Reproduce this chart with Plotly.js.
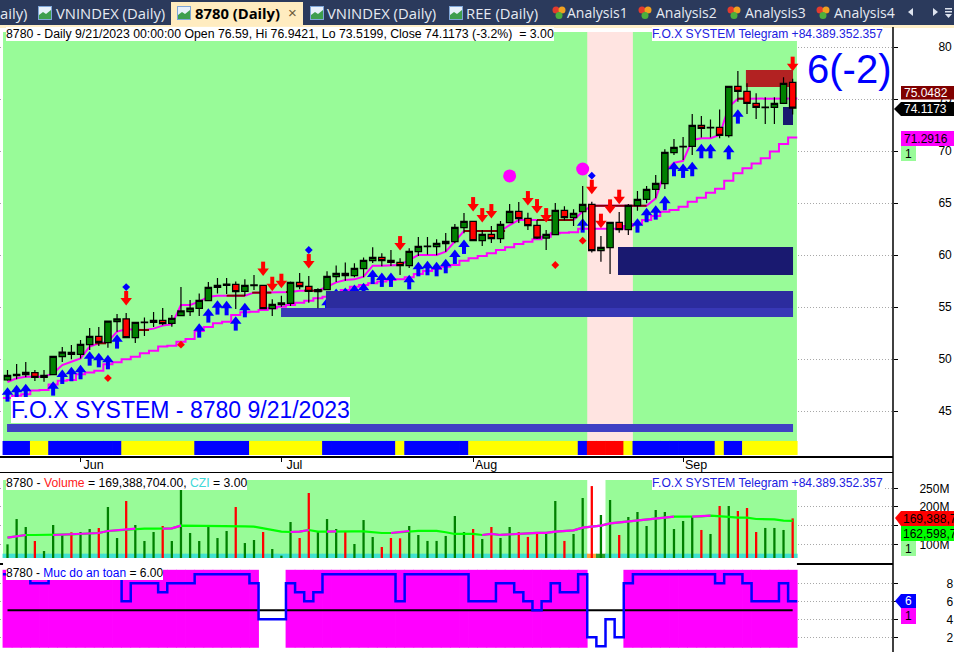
<!DOCTYPE html>
<html><head><meta charset="utf-8">
<script src="https://cdn.plot.ly/plotly-3.0.1.min.js"></script>
<style>html,body{margin:0;padding:0;background:#fff;overflow:hidden}</style>
</head><body><div id="chart" style="width:954px;height:652px"></div>
<script>
// ---- price data (bar index 0..86) ----
const openP=[47.98,48.40,48.49,48.69,48.24,48.49,50.22,50.64,50.45,51.38,52.18,51.57,53.59,53.85,52.05,53.49,53.53,53.72,53.43,54.17,54.55,54.87,55.61,56.89,57.08,57.18,56.51,57.05,57.08,54.84,55.22,55.35,57.37,56.99,56.47,56.68,57.92,58.24,58.01,58.69,59.45,59.77,59.49,59.29,58.97,60.32,60.80,60.80,61.09,61.28,62.63,63.24,61.38,61.98,61.57,63.11,64.20,63.53,62.85,61.63,61.95,64.29,63.59,64.17,64.87,60.42,60.71,63.14,62.44,64.74,65.35,66.31,66.86,69.84,70.39,70.45,72.47,72.21,72.28,71.47,76.22,75.74,74.58,74.17,74.20,74.58,76.59];
const highP=[48.94,49.52,49.71,48.94,48.94,50.29,51.15,51.35,51.83,52.98,53.08,53.69,54.33,54.42,53.53,54.00,54.52,54.90,54.23,56.92,55.67,56.31,57.40,57.79,57.79,57.44,57.66,58.08,57.12,55.74,56.09,57.44,58.27,57.98,56.80,58.43,59.00,59.29,59.20,59.77,60.74,60.16,60.48,59.68,60.64,61.73,61.73,61.51,62.11,62.98,64.04,63.30,62.40,62.79,63.27,64.90,65.10,64.07,63.37,62.40,65.00,64.68,64.39,66.64,65.13,61.83,63.14,64.14,64.90,66.15,66.64,67.69,70.16,71.15,71.35,73.56,73.37,73.04,74.00,76.22,77.69,76.51,75.55,75.16,75.16,77.08,76.94];
const lowP=[47.92,48.05,48.24,47.89,47.82,48.43,49.71,49.97,50.06,50.87,51.25,51.09,52.63,52.05,51.54,52.21,53.08,53.24,53.11,54.13,54.13,54.13,55.61,56.31,56.25,54.81,56.06,56.63,54.81,54.13,55.03,55.10,56.70,55.42,54.87,56.64,57.40,57.53,57.85,57.85,59.23,58.91,58.94,58.08,58.75,59.90,60.06,59.97,60.32,61.12,62.08,61.38,60.86,61.15,61.15,63.11,63.08,62.40,61.54,60.48,61.95,63.33,62.79,62.40,60.23,59.36,58.17,62.15,61.92,64.26,64.97,65.45,66.35,69.62,69.13,69.62,71.31,71.31,71.22,71.31,74.74,73.56,73.08,72.60,72.60,74.52,73.52];
const closeP=[48.43,48.53,48.72,48.24,48.43,50.26,50.67,50.45,51.41,52.18,51.60,53.65,53.85,52.05,53.53,53.56,53.72,53.40,53.91,54.62,54.90,55.64,56.89,57.08,57.21,56.47,57.08,57.12,54.84,55.26,55.39,57.37,56.95,56.51,56.67,57.95,58.24,58.01,58.72,59.49,59.77,59.45,59.29,58.97,60.35,60.83,60.86,61.12,61.31,62.66,63.24,61.38,61.98,61.57,62.95,64.20,63.49,62.82,61.63,61.98,64.29,63.59,64.01,64.87,60.42,60.74,63.14,62.44,64.78,65.35,66.31,66.89,69.87,70.35,70.45,72.47,72.18,72.28,71.50,76.22,75.74,74.58,74.20,74.23,74.58,76.51,74.12];
const upperLine=[47.79,48.14,48.30,48.30,48.30,48.62,49.42,49.74,50.06,51.19,51.51,51.67,52.63,52.85,52.79,52.79,52.92,53.21,53.33,55.19,55.19,55.51,55.99,56.09,56.09,56.09,56.09,56.38,56.38,56.38,56.44,56.44,56.57,56.57,56.57,56.95,57.37,57.60,57.66,57.92,58.97,58.97,59.04,59.04,59.52,60.00,60.00,60.00,60.32,61.28,62.31,62.31,62.31,62.31,62.31,62.88,63.37,63.37,63.37,63.37,63.37,63.37,63.37,64.17,64.74,64.74,64.74,64.74,64.74,64.74,64.74,65.45,68.01,68.88,69.04,71.06,71.22,71.22,71.54,74.26,75.03,75.03,75.03,75.03,75.03,75.03,75.05];
const lowerLine=[46.25,46.47,46.60,46.96,47.02,47.56,47.92,47.98,48.53,48.69,48.88,49.49,49.68,49.97,50.22,50.55,50.80,51.19,51.28,51.67,51.92,52.69,53.08,53.43,53.59,54.23,54.49,54.55,54.71,54.87,55.03,55.19,55.42,55.61,55.83,55.99,56.31,56.63,56.95,57.12,57.28,57.44,57.60,57.66,57.85,58.17,58.46,58.65,58.88,59.04,59.45,59.68,59.90,60.16,60.48,60.74,61.06,61.28,61.51,61.76,62.08,62.15,62.18,62.53,62.53,62.53,62.53,62.53,62.79,62.98,63.37,63.75,64.17,64.33,64.65,65.13,65.51,65.99,66.38,67.15,67.85,68.33,68.81,69.30,69.94,70.67,71.29];
const flatStart=[9.6,14,24,26.8,30.5,32.5,50,58,64,80];
const flatEnd=[10.8,15.5,26,28.9,31.1,34.5,54.5,62,70,81];
const flatLevel=[51.51,52.79,56.09,56.38,56.44,56.57,62.31,63.37,64.74,75.03];
// ---- signals ----
const buyIdx=[0,1,2,5,6,7,8,9,10,11,12,21,22,23,24,25,26,35,36,37,38,39,40,41,42,44,45,46,47,48,49,50,63,69,70,71,72,73,74,75,76,77,79,80];
const buyVal=[46.81,47.04,47.13,47.39,48.51,48.77,48.96,50.27,50.11,49.92,51.91,52.96,54.41,55.18,55.11,53.64,54.92,55.40,56.30,56.40,56.68,56.84,58.12,57.84,57.84,57.61,58.86,58.96,58.86,59.15,60.05,61.01,63.06,63.06,64.06,64.31,65.21,68.48,68.32,68.48,70.21,70.21,70.11,73.54];
const sellIdx=[13,28,29,30,33,43,51,52,53,57,58,59,64,65,66,67,86];
const sellVal=[55.63,58.45,57.00,57.29,59.18,60.91,64.66,63.60,63.99,65.24,64.47,63.60,66.33,63.06,64.44,65.37,78.16];
const blueDotIdx=[13,33,64], blueDotVal=[56.92,60.48,67.63];
const redDotIdx=[11,19,60,63], redDotVal=[48.17,51.38,59.04,61.38];
const pinkDotIdx=[55,63], pinkDotVal=[67.60,68.27];
// ---- zones ----
const zoneX0=[66.87,34.88,29.96,-0.05,80.88,84.94];
const zoneX1=[86.04,86.04,86.04,86.04,86.04,86.04];
const zoneY0=[58.08,54.81,54.04,42.98,76.15,72.50];
const zoneY1=[60.77,56.54,54.90,43.75,77.79,74.23];
const zoneColor=['#191970','#2C2C9E','#3838B6','#4040C4','#B22222','#191970'];
const trendRibbon=['b','b','b','y','y','b','b','b','b','b','b','b','b','y','y','y','y','y','y','y','y','b','b','b','b','b','b','y','y','y','y','y','y','y','y','b','b','b','b','b','b','b','b','y','b','b','b','b','b','b','b','y','y','y','y','y','y','y','y','y','y','y','y','b','r','r','r','r','y','b','b','b','b','b','b','b','b','b','y','b','b','y','y','y','y','y','y'];
// ---- volume (millions) ----
const volume=[99.9,167.7,146.3,108.8,82,151.7,127.6,132,132.9,141,143.6,199.9,116.8,216,151.7,108.8,132.9,149,108.8,245.4,130.2,108.8,151.7,116.8,135.6,199.9,103.4,111.5,132.9,87.4,69.5,159.7,116.8,237.4,132.9,167.7,141,135.6,100.8,165,119.5,92.7,116.8,116,149,125,109,109,122.4,175.9,133,141,114.3,146.4,117,146.4,133,119.7,127.7,132.2,216,109,127.7,224,256,178.5,218.7,125,173.2,186.6,149,191.9,186.6,141,162.5,173.2,138.4,127.7,202.6,202.6,189.2,197.3,133,143.8,143.8,138.4,169.4];
const volumeAvg=[117.7,120.4,124.9,124.9,124.9,124.9,125.8,126.7,127.6,129.4,130.2,135.6,137.4,140,141.8,141.8,141.8,141.8,142.7,149.9,149.9,149.9,149.9,149.9,149.9,149.9,148.1,147.2,142.7,137.4,133.8,132.9,133.8,138.3,133.8,133.8,134.7,134.7,134.7,134.7,132,130.2,130.2,132.2,135.7,135.7,135.7,135.7,132.2,127.7,127.7,127.7,125,127.7,125,126.8,129.5,129.5,130.4,130.4,133.9,135.7,137.5,144.6,148.2,150,156.2,158.9,160.7,162.5,165.2,169.6,172.3,174.1,174.1,174.1,175,176.8,174.1,173.2,171.4,171.4,167.8,166.9,166.9,163.4,162.5];
const volumeUp=closeP.map((c,i)=>c>=openP[i]);
// ---- safety level ----
const safety=[9,9,9,8,8,9,9,9,9,9,9,9,9,6,8,8,8,7,8,8,8,9,9,9,9,9,9,8,4,4,4,8,7,6,7,9,9,9,9,9,9,9,9,6,9,9,9,9,9,9,9,6,6,6,8,8,7,6,5,6,8,7,7,9,2,1,4,2,8,9,9,9,9,9,9,9,9,9,8,9,9,8,6,6,6,8,6];
// ---- tick labels ----
const monthTicks=[8,30,51,74], monthLabels=['Jun','Jul','Aug','Sep'];
const priceTicks=[45,50,55,60,65,70,75,80];
const volTicks=[100,150,200,250], volLabels=['100M','150M','200M','250M'];
const safetyTicks=[2,4,6,8];

const idx=openP.map((_,i)=>i);
const W=954,H=652, FONT='"Liberation Sans",Arial,sans-serif';
const px=x=>x/W, py=y=>1-y/H;
const none={hoverinfo:'skip',showlegend:false};
const RIB={b:'#0000FF',y:'#FFFF00',r:'#FF0000'};
const volBase=63.3;
const stepX=[-0.5,...idx,86.5];
const ext=a=>[a[0],...a,a[a.length-1]];

const flatX=[],flatY=[];
flatStart.forEach((s,i)=>{flatX.push(s,flatEnd[i],null);flatY.push(flatLevel[i],flatLevel[i],null);});
const avgUp=volumeAvg.map((v,i)=>{
  const r=i>0&&v>volumeAvg[i-1], n=i<86&&volumeAvg[i+1]>v; return (r||n)?v:null;});

const traces=[
 {type:'scatter',mode:'lines',x:stepX,y:ext(lowerLine),line:{color:'#FF00FF',width:2,shape:'hvh'},...none},
 {type:'scatter',mode:'lines',x:[...idx,86.5],y:[...upperLine,upperLine[86]],line:{color:'#FF00FF',width:2},...none},
 {type:'scatter',mode:'lines',x:flatX,y:flatY,line:{color:'#800000',width:2},...none},
 {type:'scatter',mode:'markers',x:buyIdx,y:buyVal,marker:{symbol:'triangle-up',size:10,color:'#0000FF'},
  error_y:{type:'data',symmetric:false,array:buyIdx.map(()=>0),arrayminus:buyIdx.map(()=>0.91),width:0,thickness:4,color:'#0000FF'},...none},
 {type:'scatter',mode:'markers',x:sellIdx,y:sellVal,marker:{symbol:'triangle-down',size:10,color:'#FF0000'},
  error_y:{type:'data',symmetric:false,array:sellIdx.map(()=>0.91),arrayminus:sellIdx.map(()=>0),width:0,thickness:4,color:'#FF0000'},...none},
 {type:'scatter',mode:'markers',x:blueDotIdx,y:blueDotVal,marker:{symbol:'diamond',size:6,color:'#0000FF'},...none},
 {type:'scatter',mode:'markers',x:redDotIdx,y:redDotVal,marker:{symbol:'diamond',size:6,color:'#FF0000'},...none},
 {type:'scatter',mode:'markers',x:pinkDotIdx,y:pinkDotVal,marker:{symbol:'circle',size:13,color:'#FF00FF'},...none},
];
zoneX0.forEach((a,i)=>traces.push({type:'scatter',mode:'lines',fill:'toself',fillcolor:zoneColor[i],
  x:[a,zoneX1[i],zoneX1[i],a,a],y:[zoneY0[i],zoneY0[i],zoneY1[i],zoneY1[i],zoneY0[i]],line:{width:0,color:zoneColor[i]},...none}));
traces.push(
 {type:'bar',x:idx,y:idx.map(()=>1.35),base:40.77,width:1.08,marker:{color:trendRibbon.map(k=>RIB[k]),line:{width:0}},...none},
 {type:'candlestick',x:idx,open:openP,high:highP,low:lowP,close:closeP,yaxis:'y4',whiskerwidth:0,
  increasing:{line:{color:'#000000',width:1.2},fillcolor:'#008000'},
  decreasing:{line:{color:'#000000',width:1.2},fillcolor:'#FF0000'},...none},
 // volume panel
 {type:'bar',xaxis:'x2',yaxis:'y2',x:idx,y:idx.map(()=>11.5),base:volBase,width:1.08,
  marker:{color:idx.map(i=>i==64?'#FFA040':i==65?'#2E9E2E':'#40E0D0'),line:{width:0}},...none},
 {type:'bar',xaxis:'x2',yaxis:'y2',x:idx,y:volume.map(v=>v-volBase),base:volBase,width:0.25,
  marker:{color:volumeUp.map(u=>u?'#008000':'#FF0000'),line:{width:0}},...none},
 {type:'scatter',xaxis:'x2',yaxis:'y2',mode:'lines',x:idx,y:volumeAvg,line:{color:'#00FF00',width:2.2},...none},
 {type:'scatter',xaxis:'x2',yaxis:'y2',mode:'lines',x:idx,y:avgUp,line:{color:'#FF00FF',width:2.2},...none},
 // safety panel
 {type:'bar',xaxis:'x3',yaxis:'y3',x:idx,y:safety.map(v=>v>=5?8.66:0),base:0.84,width:1.08,marker:{color:'#FF00FF',line:{width:0}},...none},
 {type:'scatter',xaxis:'x3',yaxis:'y3',mode:'lines',x:idx,y:idx.map(()=>5),line:{color:'#000000',width:2},...none},
 {type:'scatter',xaxis:'x3',yaxis:'y3',mode:'lines',x:stepX,y:ext(safety),line:{color:'#0000FF',width:2.5,shape:'hvh'},...none}
);

function rectD(x0,x1,y0,y1,color,ax,ay){return {type:'rect',layer:'between',xref:ax,yref:ay,x0,x1,y0,y1,fillcolor:color,line:{width:0}};}
function rectP(x0,y0,x1,y1,color,layer){return {type:'rect',layer:layer||'above',xref:'paper',yref:'paper',x0:px(x0),x1:px(x1),y0:py(y0),y1:py(y1),fillcolor:color,line:{width:0}};}
function pathP(pts,color){return {type:'path',layer:'above',xref:'paper',yref:'paper',path:'M'+pts.map(p=>px(p[0])+','+py(p[1])).join('L')+'Z',fillcolor:color,line:{width:0}};}
function circP(x,y,r,color){return {type:'circle',layer:'above',xref:'paper',yref:'paper',x0:px(x-r),x1:px(x+r),y0:py(y+r),y1:py(y-r),fillcolor:color,line:{width:0}};}

const shapes=[
 rectD(-0.49,86.47,40.77,81.44,'#98FB98','x','y'),
 rectD(63.5,68.5,40.77,81.44,'#FFE4E1','x','y'),
 rectD(-0.49,86.47,50,291,'#FFFFFF','x2','y2'),
 rectD(-0.49,63.5,63.3,272.3,'#98FB98','x2','y2'),
 rectD(65.5,86.47,63.3,272.3,'#98FB98','x2','y2'),
 rectD(-0.49,86.47,0.37,10.25,'#FFFFFF','x3','y3'),
 // header
 rectP(0,0,954,25,'#2B3A5C'),
 rectP(0,25,954,28,'#FFEFC8'),
 rectP(171,2,303,26,'#FFECC0'),
 // frame
 {type:'line',layer:'above',xref:'paper',yref:'paper',x0:px(893),x1:px(893),y0:py(27),y1:0,line:{color:'#000',width:1.5}},
 // price flags
 rectP(901,86,954,99.5,'#800000'),
 pathP([[894,109],[901,102],[954,102],[954,116],[901,116]],'#000000'),
 rectP(901,131,954,146,'#FF00FF'),
 rectP(901,146,916,161,'#98FB98'),
 pathP([[895,518],[901,511],[954,511],[954,526],[901,526]],'#FF0000'),
 rectP(901,526,954,541,'#00FF00'),
 rectP(901,541,916,556,'#98FB98'),
 pathP([[895,601],[901,594],[916,594],[916,608],[901,608]],'#0000FF'),
 rectP(901,608,916,624,'#FF00FF'),
 // tab nav glyphs
 pathP([[908,12],[913,8],[913,16]],'#DDE3EE'),
 pathP([[933,8],[938,12],[933,16]],'#DDE3EE'),
 rectP(945,8,952,9.5,'#DDE3EE'),rectP(945,11,952,12.5,'#DDE3EE'),
 pathP([[945,14],[952,14],[948.5,18]],'#DDE3EE'),
];
[38,177,310,449].forEach(x=>{
 shapes.push(rectP(x,6,x+14,20,'#7FA6D8'),rectP(x+1,7,x+13,19,'#E8F0FA'),
   pathP([[x+1,19],[x+1,15],[x+5,12],[x+8,14],[x+13,10],[x+13,19]],'#3E9E4E'));
});
[552,638,727,816].forEach(x=>{
 shapes.push(circP(x+4,10,3.5,'#E23B2E'),circP(x+10,10,3.5,'#F0A020'),circP(x+7,15.5,3.5,'#4CAF3C'));
});

function note(text,x,y,opt){return Object.assign({xref:'paper',yref:'paper',x:px(x),y:py(y),xanchor:'left',yanchor:'middle',
  showarrow:false,text,borderpad:0,borderwidth:0,font:{family:FONT,size:12,color:'#000'}},opt||{});}
const TAB={family:'"Open Sans",sans-serif',size:14.8,color:'#E6EAF2'};
const TAB2={family:'"Open Sans",sans-serif',size:14,color:'#E6EAF2'};
const annotations=[
 note('aily)',0,13,{font:TAB}),
 note('VNINDEX (Daily)',56,13,{font:TAB}),
 note('<b>8780 (Daily)</b>',195,13,{font:{family:TAB.family,size:14.8,color:'#000'}}),
 note('×',288,13,{font:{family:FONT,size:15,color:'#6B5A3A'}}),
 note('VNINDEX (Daily)',327,13,{font:TAB}),
 note('REE (Daily)',466,13,{font:TAB}),
 note('Analysis1',567,13,{font:TAB2}),
 note('Analysis2',656,13,{font:TAB2}),
 note('Analysis3',745,13,{font:TAB2}),
 note('Analysis4',834,13,{font:TAB2}),
 note('8780 - Daily 9/21/2023 00:00:00 Open 76.59, Hi 76.9421, Lo 73.5199, Close 74.1173 (-3.2%)&nbsp;&nbsp;= 3.00',6,34.5,{bgcolor:'#fff',font:{family:FONT,size:12.3,color:'#000'}}),
 note('F.O.X SYSTEM Telegram +84.389.352.357',652,34.5,{bgcolor:'#fff',font:{family:FONT,size:12.1,color:'#2020E0'}}),
 note('6(-2)',807,69,{font:{family:FONT,size:40,color:'#0000FF'}}),
 note('F.O.X SYSTEM - 8780 9/21/2023',11,410,{bgcolor:'#fff',font:{family:FONT,size:23,color:'#0000FF'}}),
 note('8780 - <span style="color:#FF2020">Volume</span> = 169,388,704.00, <span style="color:#40D8D8">CZI</span> = 3.00',6,483,{bgcolor:'#fff',font:{family:FONT,size:12.2,color:'#000'}}),
 note('F.O.X SYSTEM Telegram +84.389.352.357',652,483,{bgcolor:'#fff',font:{family:FONT,size:12.1,color:'#2020E0'}}),
 note('8780 - <span style="color:#0000FF">Muc do an toan</span> = 6.00',6,573,{bgcolor:'#fff'}),
 note('75.0482',904,93,{font:{family:FONT,size:12,color:'#fff'}}),
 note('74.1173',904,109,{font:{family:FONT,size:12,color:'#fff'}}),
 note('71.2916',904,139,{font:{family:FONT,size:12,color:'#000'}}),
 note('1',905,154,{font:{family:FONT,size:12,color:'#000'}}),
 note('169,388,7',903,518.5,{font:{family:FONT,size:12,color:'#000'}}),
 note('162,598,7',903,533.5,{font:{family:FONT,size:12,color:'#000'}}),
 note('1',905,549,{font:{family:FONT,size:12,color:'#000'}}),
 note('6',905,601,{font:{family:FONT,size:12,color:'#fff'}}),
 note('1',905,616,{font:{family:FONT,size:12,color:'#000'}}),
];

const xr=[-0.821,96.99], dom=[0,893/W];
const DOT='1px,2px';
const baseX={range:xr,domain:dom,fixedrange:true,showgrid:true,griddash:DOT,gridcolor:'#A8A8A8',gridwidth:1,zeroline:false,
  tickmode:'array',tickvals:monthTicks,ticktext:monthLabels,showticklabels:false,ticks:'',showline:false};
const baseY={side:'right',fixedrange:true,showgrid:true,griddash:DOT,gridcolor:'#A8A8A8',gridwidth:1,zeroline:false,
  tickmode:'array',ticks:'outside',ticklen:4,tickcolor:'#000',tickfont:{family:FONT,size:12,color:'#000'},showline:false};
const priceRange=[40.673,81.923];
const layout={
 width:W,height:H,margin:{l:0,r:0,t:0,b:0},paper_bgcolor:'#fff',plot_bgcolor:'#fff',showlegend:false,
 barmode:'overlay',boxgap:0,hovermode:false,
 xaxis:Object.assign({},baseX,{anchor:'y',rangeslider:{visible:false},showticklabels:true,ticks:'outside',ticklen:4,tickcolor:'#000',
   tickfont:{family:FONT,size:12.5,color:'#000'},ticklabelshift:13,ticklabelstandoff:-8,showline:true,linecolor:'#000',linewidth:1.5}),
 yaxis:Object.assign({},baseY,{anchor:'x',domain:[1-456/H,1-27/H],range:priceRange,tickvals:priceTicks,ticklabelstandoff:38}),
 yaxis4:{overlaying:'y',side:'right',range:priceRange,visible:false,fixedrange:true},
 xaxis2:Object.assign({},baseX,{anchor:'y2',showline:true,mirror:true,linecolor:'#000',linewidth:1.5}),
 yaxis2:Object.assign({},baseY,{anchor:'x2',domain:[1-563/H,1-473/H],range:[49.9,291],tickvals:volTicks,ticktext:volLabels,ticklabelstandoff:19}),
 xaxis3:Object.assign({},baseX,{anchor:'y3'}),
 yaxis3:Object.assign({},baseY,{anchor:'x3',domain:[0,1-563/H],range:[0.367,10.256],tickvals:safetyTicks,ticklabelstandoff:46}),
 shapes,annotations
};
Plotly.newPlot('chart',traces,layout,{displayModeBar:false,staticPlot:true});
</script></body></html>
